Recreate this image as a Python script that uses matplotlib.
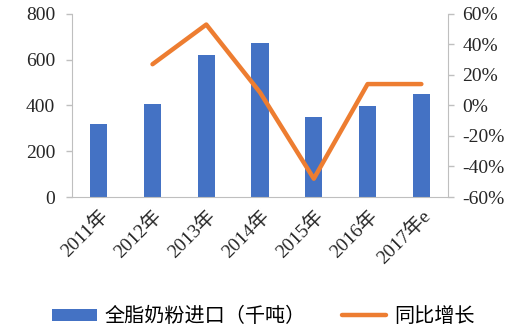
import matplotlib
matplotlib.use("Agg")
import matplotlib.pyplot as plt
from matplotlib.ticker import FuncFormatter

plt.rcParams['font.family'] = ['Liberation Serif', 'Noto Sans CJK SC', 'DejaVu Sans']

# data
years = ["2011年", "2012年", "2013年", "2014年", "2015年", "2016年", "2017年e"]
imports = [320, 405, 620, 673, 348, 397, 450]
growth = [27, 53, 8.5, -48, 14, 14]

bar_color = "#4472C4"
line_color = "#ED7D31"
grid_gray = "#BFBFBF"

fig = plt.figure(figsize=(5.17, 3.30), dpi=100)
ax = fig.add_axes([0.139, 0.403, 0.728, 0.555])
ax2 = ax.twinx()

x = list(range(len(years)))
bars = ax.bar(x, imports, width=0.32, color=bar_color, label="全脂奶粉进口（千吨）", zorder=2)
line, = ax2.plot(x[1:], growth, color=line_color, linewidth=3.2, label="同比增长",
                 solid_capstyle="round", zorder=3)

ax.set_xlim(-0.5, len(years) - 0.5)
ax.set_ylim(0, 800)
ax.set_yticks([0, 200, 400, 600, 800])
ax2.set_ylim(-60, 60)
ax2.set_yticks([-60, -40, -20, 0, 20, 40, 60])
ax2.yaxis.set_major_formatter(FuncFormatter(lambda v, p: f"{int(v)}%"))

ax.set_xticks(x)
ax.set_xticklabels(years, rotation=45, ha="right", rotation_mode="anchor", fontsize=14)

for a in (ax, ax2):
    for s in a.spines.values():
        s.set_visible(False)
    a.tick_params(axis="y", colors=grid_gray, labelcolor="#262626", labelsize=14, length=4, width=1)
    a.tick_params(axis="x", length=0, labelcolor="#262626", pad=7)

ax.spines["left"].set_visible(True)
ax.spines["left"].set_color(grid_gray)
ax.spines["bottom"].set_visible(True)
ax.spines["bottom"].set_color(grid_gray)
ax2.spines["right"].set_visible(True)
ax2.spines["right"].set_color(grid_gray)
ax.tick_params(axis="y", pad=8)
ax2.tick_params(axis="y", pad=6)

fig.legend(handles=[bars, line], loc="lower center", bbox_to_anchor=(0.51, -0.045), ncol=2,
           frameon=False, fontsize=14.5, handlelength=2.2, handleheight=0.55, columnspacing=1.8,
           handletextpad=0.4)

fig.savefig("out.png", dpi=100)
